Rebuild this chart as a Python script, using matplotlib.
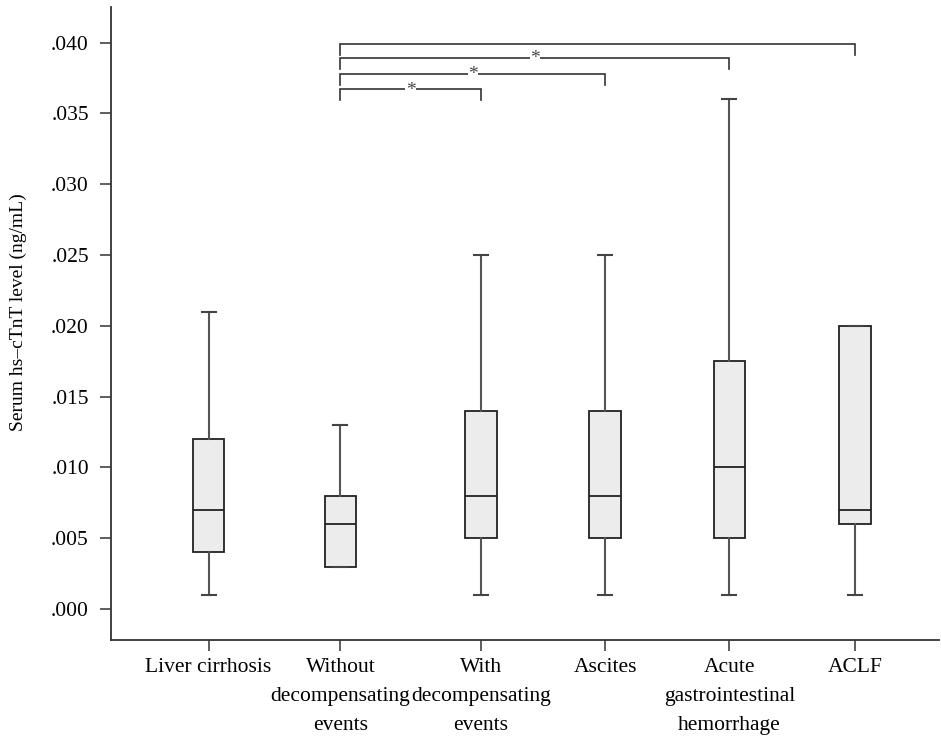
import matplotlib.pyplot as plt
from matplotlib.ticker import FuncFormatter

plt.rcParams['font.family'] = ['Liberation Serif', 'DejaVu Serif']

groups = ['Liver cirrhosis', 'Without\ndecompensating\nevents', 'With\ndecompensating\nevents',
          'Ascites', 'Acute\ngastrointestinal\nhemorrhage', 'ACLF']
whislo = [0.001, 0.003, 0.001, 0.001, 0.001, 0.001]
q1 = [0.004, 0.003, 0.005, 0.005, 0.005, 0.006]
med = [0.007, 0.006, 0.008, 0.008, 0.010, 0.007]
q3 = [0.012, 0.008, 0.014, 0.014, 0.0175, 0.020]
whishi = [0.021, 0.013, 0.025, 0.025, 0.036, 0.020]

# significance brackets: (from group, to group, height, starred)
pairs = [(1, 5), (1, 4), (1, 3), (1, 2)]
heights = [0.0399, 0.0389, 0.0378, 0.0367]
stars = ['', '*', '*', '*']

# x positions of the boxes (uneven in the original)
pos = [0.77, 1.81, 2.92, 3.90, 4.88, 5.87]

fig = plt.figure(figsize=(9.41, 7.40), dpi=100)
ax = fig.add_axes([0.118, 0.135, 0.88, 0.856])

stats = []
for i in range(len(groups)):
    stats.append(dict(whislo=whislo[i], q1=q1[i], med=med[i], q3=q3[i], whishi=whishi[i]))

ax.bxp(stats, positions=pos, widths=0.25, showfliers=False, patch_artist=True,
       boxprops=dict(facecolor='#ebeceb', edgecolor='#222222', linewidth=1.3),
       medianprops=dict(color='#222222', linewidth=1.3),
       whiskerprops=dict(color='#555555', linewidth=1.5),
       capprops=dict(color='#444444', linewidth=1.5),
       capwidths=0.11)

leg = 0.00078
for (a, b), h, s in zip(pairs, heights, stars):
    xa, xb = pos[a], pos[b]
    ax.plot([xa, xa, xb, xb], [h - leg, h, h, h - leg], color='#333333', lw=1.2,
            solid_joinstyle='miter')
    if s:
        ax.text((xa + xb) / 2, h - 0.00005, s, ha='center', va='center', fontsize=14,
                color='#444444', bbox=dict(facecolor='white', edgecolor='none', pad=0.3))

ax.set_xlim(0, 6.535)
ax.set_ylim(-0.00219, 0.04254)
ax.set_yticks([0.000, 0.005, 0.010, 0.015, 0.020, 0.025, 0.030, 0.035, 0.040])
ax.yaxis.set_major_formatter(FuncFormatter(lambda v, p: ('%.3f' % v).lstrip('0')))
ax.set_xticks(pos)
ax.set_xticklabels(groups, linespacing=1.72)

for side in ['top', 'right']:
    ax.spines[side].set_visible(False)
for side in ['left', 'bottom']:
    ax.spines[side].set_linewidth(1.3)
    ax.spines[side].set_color('#333333')
ax.tick_params(axis='both', length=8, width=1.1, color='#333333', labelsize=15.5)
ax.tick_params(axis='y', pad=8)
ax.tick_params(axis='x', pad=5)
ax.set_ylabel('Serum hs\u2013cTnT level (ng/mL)', fontsize=14, labelpad=17)
ax.yaxis.label.set_y(0.518)

fig.savefig('out.png')
